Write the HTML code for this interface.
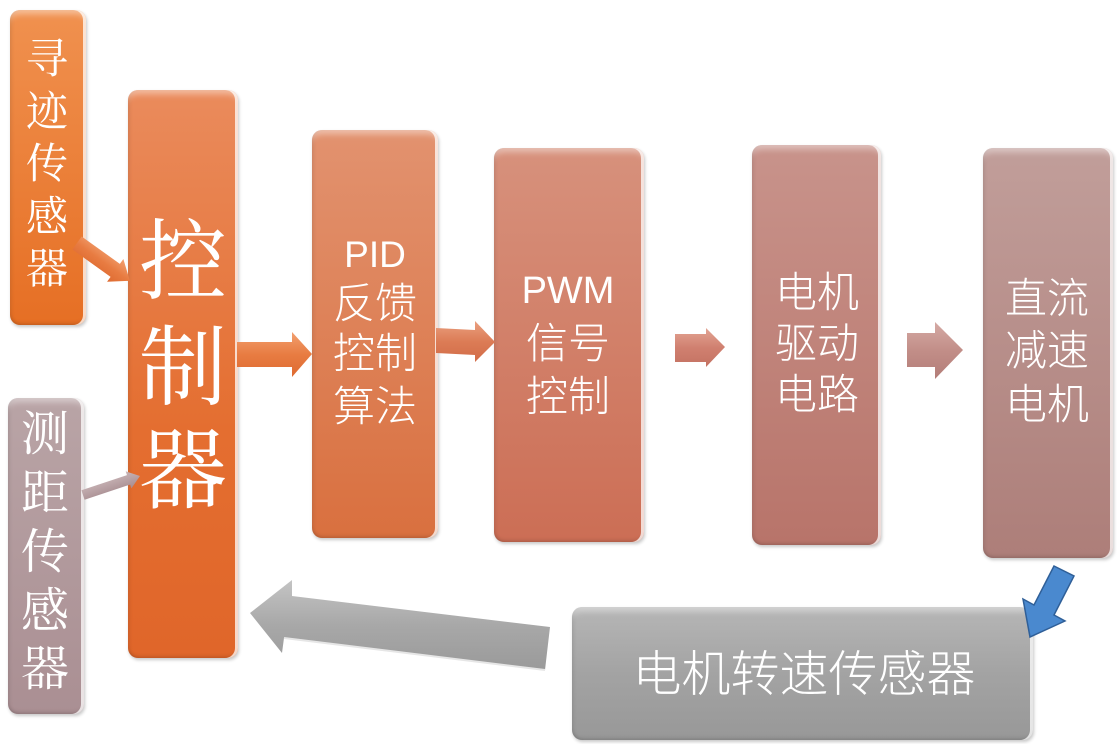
<!DOCTYPE html>
<html>
<head>
<meta charset="utf-8">
<style>
  html, body { margin:0; padding:0; background:#fff; }
  #c { position:relative; width:1117px; height:744px; overflow:hidden; background:#fff; }
  .box { position:absolute; border-radius:10px;
    box-shadow: inset 0 9px 7px -5px rgba(255,255,255,0.45),
                inset -3px 0 0 rgba(255,255,255,0.75),
                inset 3px 0 4px -2px rgba(0,0,0,0.12),
                inset 0 -4px 5px -3px rgba(0,0,0,0.18),
                1px 2px 3px rgba(0,0,0,0.22); }
  .t { position:absolute; color:#fff; white-space:nowrap; text-align:center; transform:translateX(-50%); }
  .s { font-family:"Liberation Sans","Noto Sans CJK SC",sans-serif; font-weight:300; }
  .sr { font-family:"Liberation Serif","Noto Serif CJK SC",serif; }
  svg { position:absolute; left:0; top:0; }
</style>
</head>
<body>
<div id="c">
  <!-- boxes -->
  <div class="box" style="left:10px;top:10px;width:76px;height:315px;background:linear-gradient(#f0914f,#e66f24);"></div>
  <div class="box" style="left:128px;top:90px;width:110px;height:568px;background:linear-gradient(#ea8b5c,#e46e30 60%,#e0662a);"></div>
  <div class="box" style="left:8px;top:398px;width:76px;height:316px;background:linear-gradient(#b9a4a6,#aa8f93);"></div>
  <div class="box" style="left:312px;top:130px;width:126px;height:408px;background:linear-gradient(#e2926f,#d9703f);"></div>
  <div class="box" style="left:494px;top:148px;width:150px;height:394px;background:linear-gradient(#d7917c,#cc6e55);"></div>
  <div class="box" style="left:752px;top:145px;width:129px;height:400px;background:linear-gradient(#c8938b,#b8746a);"></div>
  <div class="box" style="left:983px;top:148px;width:130px;height:410px;background:linear-gradient(#c19e9a,#ad7e79);"></div>
  <div class="box" style="left:572px;top:607px;width:461px;height:133px;background:linear-gradient(#b6b6b6,#a3a3a3 50%,#989898);"></div>

  <!-- arrows -->
  <svg width="1117" height="744" viewBox="0 0 1117 744">
    <defs>
      <linearGradient id="gO" x1="0" y1="0" x2="0" y2="1">
        <stop offset="0" stop-color="#f2a070"/><stop offset="0.5" stop-color="#e87c42"/><stop offset="1" stop-color="#de6a30"/>
      </linearGradient>
      <linearGradient id="gP" x1="0" y1="0" x2="0" y2="1">
        <stop offset="0" stop-color="#eaa080"/><stop offset="0.5" stop-color="#dc7c56"/><stop offset="1" stop-color="#d26c48"/>
      </linearGradient>
      <linearGradient id="gQ" x1="0" y1="0" x2="0" y2="1">
        <stop offset="0" stop-color="#e3a594"/><stop offset="0.5" stop-color="#d08070"/><stop offset="1" stop-color="#c47262"/>
      </linearGradient>
      <linearGradient id="gR" x1="0" y1="0" x2="0" y2="1">
        <stop offset="0" stop-color="#d5aaa5"/><stop offset="0.5" stop-color="#c28e88"/><stop offset="1" stop-color="#b37d78"/>
      </linearGradient>
      <linearGradient id="gM" x1="0" y1="0" x2="0" y2="1">
        <stop offset="0" stop-color="#c9b5b7"/><stop offset="1" stop-color="#a78c90"/>
      </linearGradient>
      <linearGradient id="gG" x1="0" y1="0" x2="0" y2="1">
        <stop offset="0" stop-color="#c4c4c4"/><stop offset="0.5" stop-color="#a8a8a8"/><stop offset="1" stop-color="#9a9a9a"/>
      </linearGradient>
    </defs>
    <!-- 寻迹 -> 控制器 -->
    <g transform="translate(77,243) rotate(35.6)">
      <polygon points="0,-8 47,-8 47,-14 65,0 47,14 47,8 0,8" fill="url(#gO)"/>
    </g>
    <!-- 测距 -> 控制器 -->
    <g transform="translate(83,495) rotate(-18.4)">
      <polygon points="0,-5 48,-5 48,-9 60,0 48,9 48,5 0,5" fill="url(#gM)"/>
    </g>
    <!-- 控制器 -> PID -->
    <polygon points="237,342 292,342 292,332 312,354 292,377 292,367 237,367" fill="url(#gO)"/>
    <!-- PID -> PWM -->
    <polygon points="436,328 475,330 475,321 495,342 475,362 475,355 436,353" fill="url(#gP)"/>
    <!-- PWM -> 电机驱动 -->
    <polygon points="675,334 706,334 706,328 725,347 706,367 706,362 675,362" fill="url(#gQ)"/>
    <!-- 电机驱动 -> 直流 -->
    <polygon points="907,333 935,333 935,322 963,350 935,379 935,367 907,367" fill="url(#gR)"/>
    <!-- grey feedback arrow -->
    <polygon points="250,613 292,580 292,596 550,627 545,670 284,638 282,653" fill="url(#gG)"/>
    <polyline points="284,638 545,670" fill="none" stroke="#e6e6e6" stroke-width="2"/>
    <!-- blue arrow -->
    <polygon points="1054,566 1074,576 1054,615 1065,621 1030,637 1023,599 1034,605" fill="#4a89cf" stroke="#2f5f98" stroke-width="1.5" stroke-linejoin="miter"/>
  </svg>

  <!-- text: 寻迹传感器 -->
  <div class="t sr" style="left:47px;top:39px;font-size:42px;line-height:42px;">寻</div>
  <div class="t sr" style="left:47px;top:92px;font-size:42px;line-height:42px;">迹</div>
  <div class="t sr" style="left:47px;top:144px;font-size:42px;line-height:42px;">传</div>
  <div class="t sr" style="left:47px;top:197px;font-size:42px;line-height:42px;">感</div>
  <div class="t sr" style="left:47px;top:249px;font-size:42px;line-height:42px;">器</div>

  <!-- 控制器 -->
  <div class="t sr" style="left:183px;top:220px;font-size:88px;line-height:88px;">控</div>
  <div class="t sr" style="left:183px;top:326px;font-size:88px;line-height:88px;">制</div>
  <div class="t sr" style="left:183px;top:429px;font-size:88px;line-height:88px;">器</div>

  <!-- 测距传感器 -->
  <div class="t sr" style="left:45px;top:411px;font-size:48px;line-height:48px;">测</div>
  <div class="t sr" style="left:45px;top:470px;font-size:48px;line-height:48px;">距</div>
  <div class="t sr" style="left:45px;top:529px;font-size:48px;line-height:48px;">传</div>
  <div class="t sr" style="left:45px;top:588px;font-size:48px;line-height:48px;">感</div>
  <div class="t sr" style="left:45px;top:646px;font-size:48px;line-height:48px;">器</div>

  <!-- PID -->
  <div class="t s" style="left:375px;top:236px;font-size:37px;line-height:37px;font-weight:400;">PID</div>
  <div class="t s" style="left:375px;top:283px;font-size:42px;line-height:42px;">反馈</div>
  <div class="t s" style="left:375px;top:333px;font-size:42px;line-height:42px;">控制</div>
  <div class="t s" style="left:375px;top:386px;font-size:42px;line-height:42px;">算法</div>

  <!-- PWM -->
  <div class="t s" style="left:568px;top:272px;font-size:38px;line-height:38px;font-weight:400;">PWM</div>
  <div class="t s" style="left:568px;top:323px;font-size:42px;line-height:42px;">信号</div>
  <div class="t s" style="left:568px;top:376px;font-size:42px;line-height:42px;">控制</div>

  <!-- 电机驱动电路 -->
  <div class="t s" style="left:817px;top:272px;font-size:42px;line-height:42px;">电机</div>
  <div class="t s" style="left:817px;top:323px;font-size:42px;line-height:42px;">驱动</div>
  <div class="t s" style="left:817px;top:374px;font-size:42px;line-height:42px;">电路</div>

  <!-- 直流减速电机 -->
  <div class="t s" style="left:1047px;top:278px;font-size:42px;line-height:42px;">直流</div>
  <div class="t s" style="left:1047px;top:330px;font-size:42px;line-height:42px;">减速</div>
  <div class="t s" style="left:1047px;top:384px;font-size:42px;line-height:42px;">电机</div>

  <!-- 电机转速传感器 -->
  <div class="t s" style="left:804px;top:651px;font-size:49px;line-height:49px;">电机转速传感器</div>
</div>
</body>
</html>
